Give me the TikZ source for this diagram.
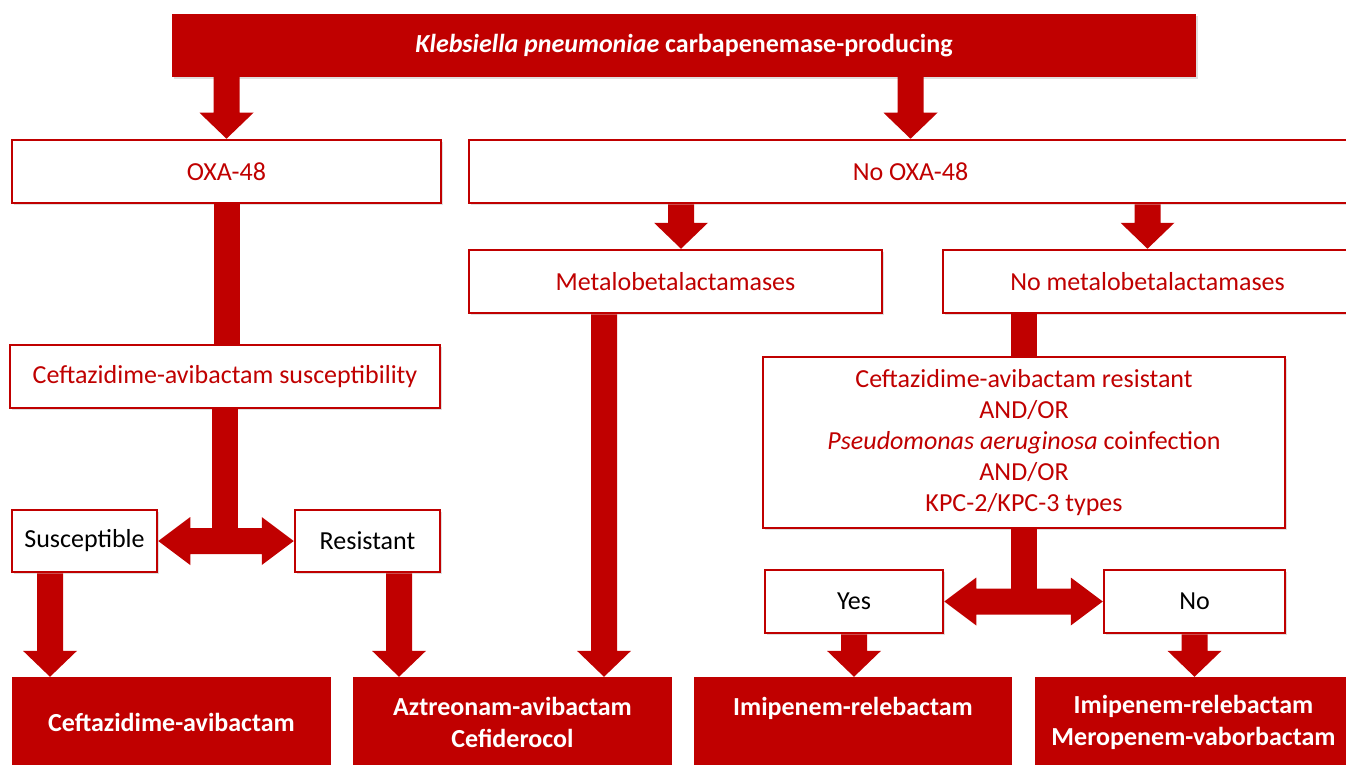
\documentclass[tikz,border=0pt]{standalone}
\usepackage{fontspec}
\setmainfont{Carlito}
\usetikzlibrary{calc,shadows}
\definecolor{kred}{HTML}{C00000}
\newcommand{\fatdown}[2]{%
  \fill[kred] let \p1=(#1), \p2=(#2) in
    (\x2-13pt,\y1) -- (\x2+13pt,\y1) -- (\x2+13pt,\y2+26pt) -- (\x2+27pt,\y2+26pt)
    -- (\x2,\y2) -- (\x2-27pt,\y2+26pt) -- (\x2-13pt,\y2+26pt) -- cycle;}
\newcommand{\fatdouble}[2]{%
  \fill[kred] let \p1=(#1), \p2=(#2) in
    (\x1,\y1) -- (\x1+32pt,\y1+24pt) -- (\x1+32pt,\y1+13pt) -- (\x2-32pt,\y1+13pt)
    -- (\x2-32pt,\y1+24pt) -- (\x2,\y1) -- (\x2-32pt,\y1-24pt) -- (\x2-32pt,\y1-13pt)
    -- (\x1+32pt,\y1-13pt) -- (\x1+32pt,\y1-24pt) -- cycle;}
\newcommand{\fatshaft}[2]{%
  \fill[kred] let \p1=(#1), \p2=(#2) in (\x1-13pt,\y1) rectangle (\x1+13pt,\y2);}
\tikzset{
  wbox/.style={draw=kred, line width=2.5pt, fill=white, minimum height=63pt, inner sep=0pt,
    text=kred, font=\fontsize{26}{31}\selectfont, align=center,
    drop shadow={shadow xshift=2pt, shadow yshift=-2pt, opacity=0.25}},
  bbox/.style={wbox, text=black},
  rbox/.style={fill=kred, draw=none, text=white, inner sep=0pt, align=center,
    font=\fontsize{26}{32}\selectfont\bfseries},
}
\begin{document}
\begin{tikzpicture}[x=1pt,y=1pt]
\useasboundingbox (0,0) rectangle (1346,-765);
\clip (0,0) rectangle (1346,-765);
% nodes
\node[rbox, minimum width=1024pt, minimum height=63pt,
  drop shadow={shadow xshift=2pt, shadow yshift=-2pt, opacity=0.25}] (top) at (684,-45.5)
  {\raisebox{-2pt}{\textit{Klebsiella pneumoniae} carbapenemase-producing}};
\node[wbox, minimum width=429pt] (oxa) at (226.5,-171.5) {OXA-48};
\node[wbox, minimum width=883pt] (nooxa) at (910.5,-171.5) {No OXA-48};
\node[wbox, minimum width=413pt] (metalo) at (675.5,-281.5) {Metalobetalactamases};
\node[wbox, minimum width=409pt] (nometalo) at (1147.5,-281.5) {No metalobetalactamases};
\node[wbox, minimum width=430pt] (csusc) at (225,-376.5) {Ceftazidime-avibactam susceptibility};
\node[bbox, minimum width=145pt, minimum height=62pt] (susc) at (84.5,-541) {Susceptible};
\node[bbox, minimum width=145pt, minimum height=62pt] (res) at (367.5,-541) {Resistant};
\node[wbox, minimum width=522pt, minimum height=171pt] (big) at (1024,-442.5)
  {Ceftazidime-avibactam resistant\\AND/OR\\\textit{Pseudomonas aeruginosa} coinfection\\AND/OR\\KPC-2/KPC-3 types};
\node[bbox, minimum width=178pt] (yes) at (854,-601.5) {Yes};
\node[bbox, minimum width=181pt] (no) at (1194.5,-601.5) {No};
\node[rbox, minimum width=319pt, minimum height=90pt] (f1) at (171.5,-722) {Ceftazidime-avibactam};
\node[rbox, minimum width=319pt, minimum height=90pt] (f2) at (512.5,-722) {Aztreonam-avibactam\\Cefiderocol};
\node[rbox, minimum width=318pt, minimum height=90pt] (f3) at (853,-722) {Imipenem-relebactam\\\mbox{}};
\node[rbox, minimum width=318pt, minimum height=90pt] (f4) at (1193.5,-722) {Imipenem-relebactam\\Meropenem-vaborbactam};
% connectors
\fatdown{top.south}{oxa.north}
\fatdown{top.south}{nooxa.north}
\fatdown{nooxa.south}{$(metalo.north)+(5.5,0)$}
\fatdown{nooxa.south}{nometalo.north}
\fatshaft{oxa.south}{csusc.north}
\fatshaft{csusc.south}{susc.east}
\fatdouble{susc.east}{res.west}
\fatdown{susc.south}{$(susc.south|-f1.north)+(-34.5,0)$}
\fatdown{res.south}{$(res.south|-f2.north)+(31.5,0)$}
\fatdown{metalo.south}{$(f2.north)+(91.5,0)$}
\fatshaft{big.north}{nometalo.south}
\fatshaft{big.south}{yes.east}
\fatdouble{yes.east}{no.west}
\fatdown{yes.south}{yes.south|-f3.north}
\fatdown{no.south}{no.south|-f4.north}
\end{tikzpicture}
\end{document}
